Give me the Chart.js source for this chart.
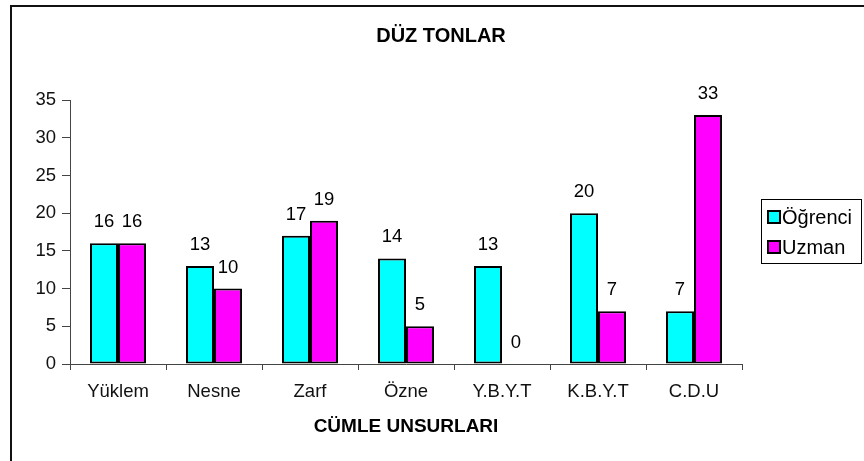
<!DOCTYPE html>
<html lang="en">
<head>
<meta charset="utf-8">
<script src="https://cdn.jsdelivr.net/npm/chart.js@4.4.1/dist/chart.umd.min.js"></script>
<style>
	html, body { margin: 0; padding: 0; background: #fff; }
	#myChart { display: block; }
</style>
</head>
<body>
<canvas id="myChart" width="864" height="461"></canvas>
<script>
	const categories = ["Yüklem", "Nesne", "Zarf", "Özne", "Y.B.Y.T", "K.B.Y.T", "C.D.U"];
	const ogrenci = [16, 13, 17, 14, 13, 20, 7];
	const uzman = [16, 10, 19, 5, 0, 7, 33];
	const yTicks = [0, 5, 10, 15, 20, 25, 30, 35];
	const seriesNames = ["Öğrenci", "Uzman"];
	const chartTitle = "DÜZ TONLAR";
	const xTitle = "CÜMLE UNSURLARI";

	const FONT = "'Liberation Sans', Arial, sans-serif";

	// frame, titles, value labels and legend
	const extras = {
		id: "extras",
		beforeDraw(chart) {
			const ctx = chart.ctx;
			ctx.save();
			ctx.strokeStyle = "#111";
			ctx.lineWidth = 2;
			ctx.strokeRect(11, 6, 870, 470);
			ctx.restore();
		},
		afterDatasetsDraw(chart) {
			const ctx = chart.ctx;
			const area = chart.chartArea;
			ctx.save();
			ctx.fillStyle = "#000";
			ctx.textAlign = "center";
			ctx.textBaseline = "middle";
			ctx.font = "bold 20px " + FONT;
			ctx.fillText(chartTitle, 441, 36);
			ctx.font = "bold 19px " + FONT;
			ctx.fillText(xTitle, (area.left + area.right) / 2, 427);

			ctx.font = "18.5px " + FONT;
			chart.data.datasets.forEach((ds, i) => {
				const meta = chart.getDatasetMeta(i);
				meta.data.forEach((bar, j) => {
					ctx.fillText(String(ds.data[j]), bar.x, bar.y - 21);
				});
			});

			// legend
			ctx.strokeStyle = "#000";
			ctx.lineWidth = 1;
			ctx.strokeRect(761.5, 199.5, 100, 64);
			ctx.textAlign = "left";
			ctx.font = "20px " + FONT;
			chart.data.datasets.forEach((ds, i) => {
				const cy = 217 + i * 30;
				ctx.fillStyle = ds.backgroundColor;
				ctx.fillRect(768, cy - 6, 12, 12);
				ctx.lineWidth = 2;
				ctx.strokeRect(768, cy - 6, 12, 12);
				ctx.fillStyle = "#000";
				ctx.fillText(ds.label, 782, cy + 1);
			});
			ctx.restore();
		}
	};

	const ctx = document.getElementById("myChart").getContext("2d");
	const myChart = new Chart(ctx, {
		type: "bar",
		data: {
			labels: categories,
			datasets: [
				{
					label: seriesNames[0],
					data: ogrenci,
					backgroundColor: "#00FFFF",
					borderColor: "#000",
					borderWidth: 2,
					borderSkipped: false
				},
				{
					label: seriesNames[1],
					data: uzman,
					backgroundColor: "#FF00FF",
					borderColor: "#000",
					borderWidth: 2,
					borderSkipped: false
				}
			]
		},
		options: {
			responsive: false,
			animation: false,
			devicePixelRatio: 1,
			categoryPercentage: 0.583,
			barPercentage: 1,
			layout: { padding: { left: 0, top: 100, right: 122, bottom: 0 } },
			plugins: {
				legend: { display: false },
				title: { display: false },
				tooltip: { enabled: false }
			},
			scales: {
				x: {
					grid: {
						offset: true,
						drawOnChartArea: false,
						tickLength: 6,
						tickColor: "#444"
					},
					border: { color: "#444", width: 1 },
					ticks: {
						color: "#111",
						font: { family: FONT, size: 18.5 },
						padding: 11,
						maxRotation: 0
					},
					afterFit(scale) { scale.height = 97; }
				},
				y: {
					min: 0,
					max: 35,
					afterBuildTicks(scale) {
						scale.ticks = yTicks.map(v => ({ value: v }));
					},
					grid: {
						drawOnChartArea: false,
						tickLength: 8,
						tickColor: "#444"
					},
					border: { color: "#444", width: 1 },
					ticks: {
						color: "#111",
						font: { family: FONT, size: 18.5 },
						padding: 6
					},
					afterFit(scale) { scale.width = 70; }
				}
			}
		},
		plugins: [extras]
	});
</script>
</body>
</html>
